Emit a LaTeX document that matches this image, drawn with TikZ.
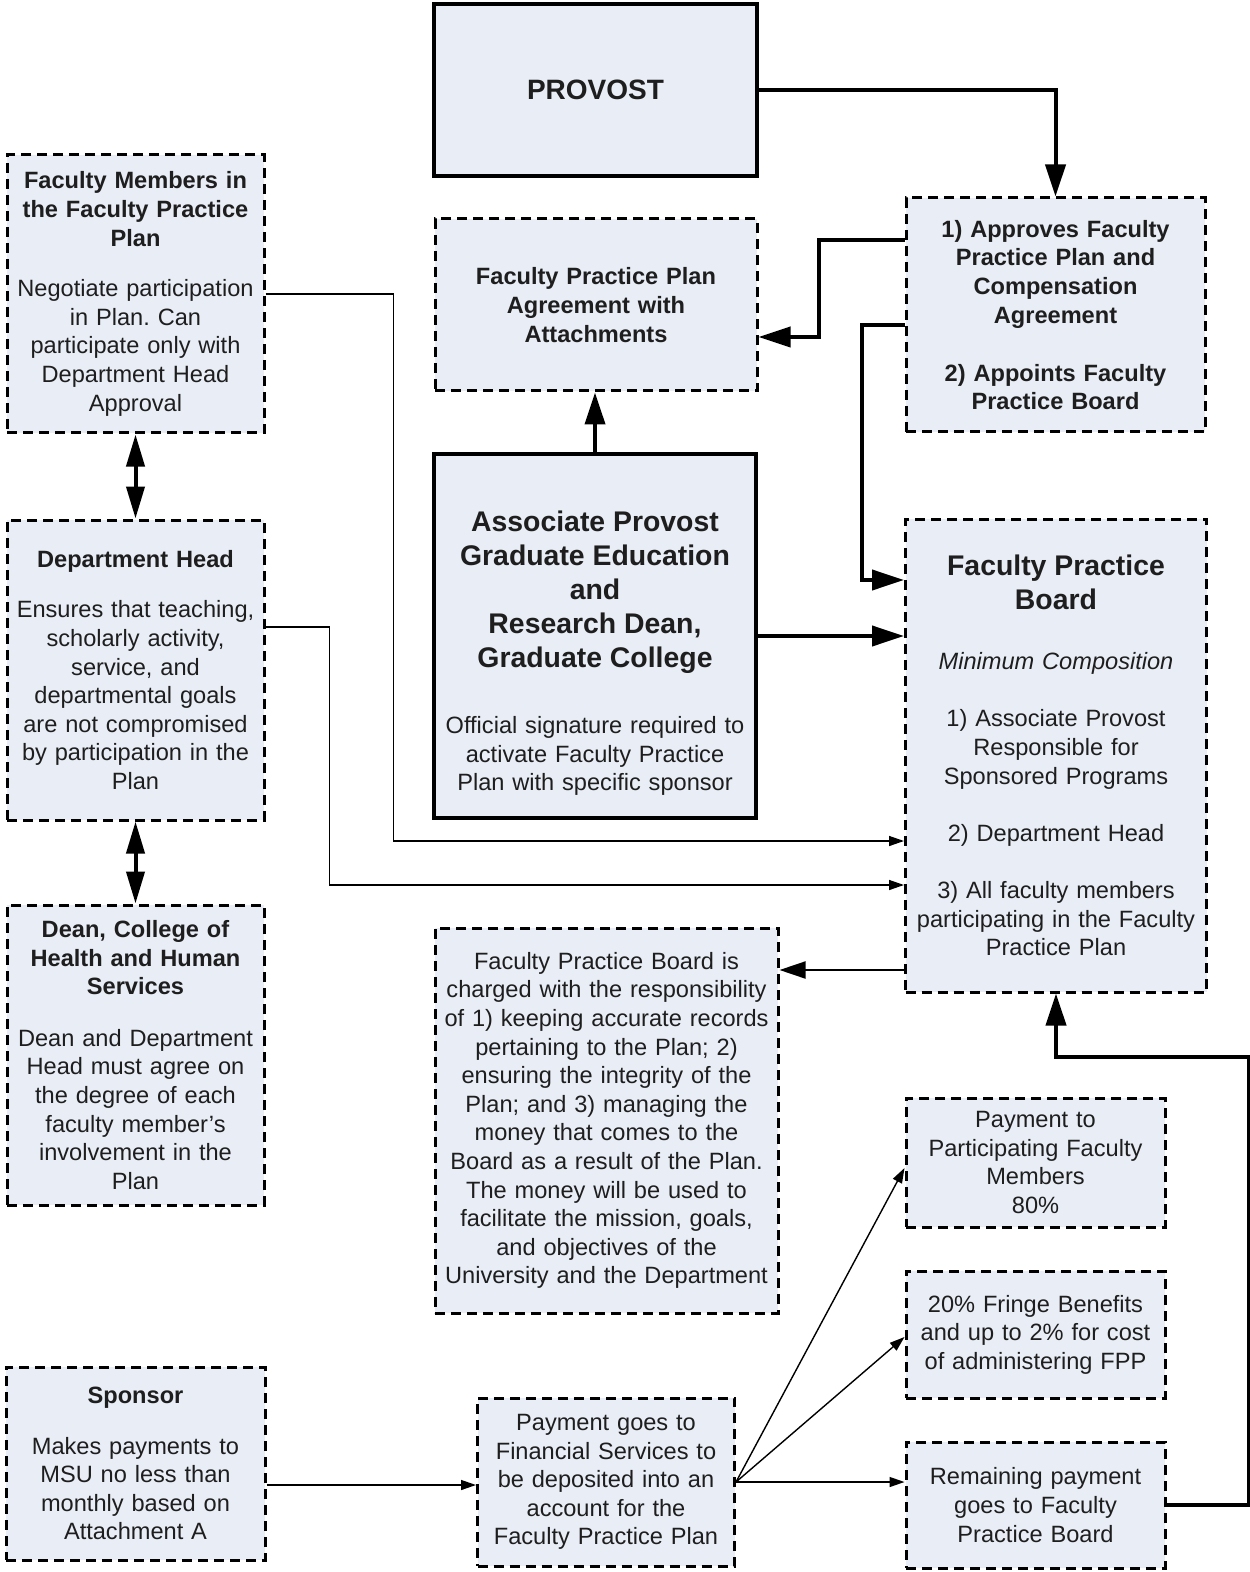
\documentclass[tikz,border=0pt]{standalone}
\usepackage{fontspec}
\setmainfont{Liberation Sans}
\usetikzlibrary{arrows.meta}
\definecolor{boxfill}{RGB}{232,237,246}
\definecolor{ink}{RGB}{30,30,30}
\begin{document}
\frenchspacing
\begin{tikzpicture}[x=0.5pt,y=-0.5pt,
  base/.style={rectangle, fill=boxfill, align=center, inner sep=0pt, text=ink,
    font=\fontsize{11.8}{14.3}\selectfont},
  dbox/.style={base, draw=black, line width=1.5pt, dash pattern=on 5pt off 3pt},
  sbox/.style={base, draw=black, line width=2pt},
  thk/.style={draw=black, line width=2pt, -{Triangle[length=16pt,width=10pt]}},
  dbl/.style={draw=black, line width=2pt, {Triangle[length=16pt,width=9pt]}-{Triangle[length=16pt,width=9pt]}},
  med/.style={draw=black, line width=1pt, -{Triangle[length=13pt,width=8.5pt]}},
  thn/.style={draw=black, line width=0.7pt, -{Triangle[length=7.5pt,width=5pt]}}]
\useasboundingbox (0,0) rectangle (1249,1572);

\node[sbox, minimum width=161.5pt, minimum height=86pt, text width=158pt] (prov) at (595.5,90)
  {\fontsize{14}{17}\selectfont\bfseries PROVOST};

\node[dbox, minimum width=149.5pt, minimum height=117pt, text width=146pt] (appr) at (1055.5,315)
  {\bfseries 1) Approves Faculty\\ Practice Plan and\\ Compensation\\ Agreement\\[14.7pt] 2) Appoints Faculty\\ Practice Board};

\node[dbox, minimum width=161pt, minimum height=86pt, text width=158pt] (agree) at (596,305)
  {\bfseries Faculty Practice Plan\\ Agreement with\\ Attachments};

\node[dbox, minimum width=128.5pt, minimum height=139pt, text width=126pt] (fm) at (135.5,294)
  {\bfseries Faculty Members in\\ the Faculty Practice\\ Plan\\[11pt]\mdseries Negotiate participation\\ in Plan. Can\\ participate only with\\ Department Head\\ Approval};

\node[dbox, minimum width=128.5pt, minimum height=150pt, text width=126pt] (dh) at (135.5,670)
  {\bfseries Department Head\\[11pt]\mdseries Ensures that teaching,\\ scholarly activity,\\ service, and\\ departmental goals\\ are not compromised\\ by participation in the\\ Plan};

\node[dbox, minimum width=128.5pt, minimum height=150pt, text width=126pt] (dean) at (135.5,1055)
  {\bfseries Dean, College of\\ Health and Human\\ Services\\[11.5pt]\mdseries Dean and Department\\ Head must agree on\\ the degree of each\\ faculty member's\\ involvement in the\\ Plan};

\node[sbox, minimum width=161pt, minimum height=182pt, text width=158pt] (ap) at (595,636)
  {{\fontsize{14.2}{17}\selectfont\bfseries\rule{0pt}{27.5pt}Associate Provost\\ Graduate Education\\ and\\ Research Dean,\\ Graduate College\par}\vskip 18.7pt
   Official signature required to\\ activate Faculty Practice\\ Plan with specific sponsor};

\node[dbox, minimum width=150.5pt, minimum height=236.5pt, text width=148pt] (fpb) at (1056,755.5)
  {{\fontsize{14.2}{17}\selectfont\bfseries Faculty Practice\\ Board\par}\vskip 15.7pt
   \itshape Minimum Composition\\[14.3pt]\upshape 1) Associate Provost\\ Responsible for\\ Sponsored Programs\\[14.3pt] 2) Department Head\\[14.3pt] 3) All faculty members\\ participating in the Faculty\\ Practice Plan};

\node[dbox, minimum width=171.5pt, minimum height=192.5pt, text width=169pt] (resp) at (606.5,1120.5)
  {Faculty Practice Board is\\ charged with the responsibility\\ of 1) keeping accurate records\\ pertaining to the Plan; 2)\\ ensuring the integrity of the\\ Plan; and 3) managing the\\ money that comes to the\\ Board as a result of the Plan.\\ The money will be used to\\ facilitate the mission, goals,\\ and objectives of the\\ University and the Department};

\node[dbox, minimum width=129.5pt, minimum height=64.5pt, text width=127pt] (pay) at (1035.5,1162.5)
  {Payment to\\ Participating Faculty\\ Members\\ 80\%};

\node[dbox, minimum width=129.5pt, minimum height=63.5pt, text width=127pt] (fringe) at (1035.5,1334.5)
  {20\% Fringe Benefits\\ and up to 2\% for cost\\ of administering FPP};

\node[dbox, minimum width=129.5pt, minimum height=63pt, text width=127pt] (rem) at (1035.5,1505)
  {Remaining payment\\ goes to Faculty\\ Practice Board};

\node[dbox, minimum width=128.5pt, minimum height=84pt, text width=126pt] (fin) at (606,1482)
  {Payment goes to\\ Financial Services to\\ be deposited into an\\ account for the\\ Faculty Practice Plan};

\node[dbox, minimum width=129.5pt, minimum height=96.5pt, text width=127pt] (sp) at (135.5,1463.5)
  {\bfseries Sponsor\\[11pt]\mdseries Makes payments to\\ MSU no less than\\ monthly based on\\ Attachment A};

% connectors
\draw[thk] (prov.east) -| (appr.north);
\draw[thk] ([yshift=37.5pt]appr.west) -- ++(-86,0) |- ([yshift=-16pt]agree.east);
\draw[thk] ([yshift=-5pt]appr.west) -- ++(-43,0) |- ([yshift=87.75pt]fpb.west);
\draw[thk] (ap.north) -- (ap.north |- agree.south);
\draw[thk] (ap.east) -- (ap.east -| fpb.west);
\draw[thn] (fm.east) -- ++(128,0) |- ([yshift=-42.75pt]fpb.west);
\draw[thn] ([yshift=21.5pt]dh.east) -- ++(64,0) |- ([yshift=-64.75pt]fpb.west);
\draw[dbl] (fm.south) -- (dh.north);
\draw[dbl] (dh.south) -- (dean.north);
\coordinate (fpbout) at ([yshift=-107.25pt]fpb.west);
\draw[med] (fpbout) -- (fpbout -| resp.east);
\coordinate (spout) at ([yshift=-10.75pt]sp.east);
\draw[thn] (spout) -- (spout -| fin.west);
\draw[thn] (fin.east) -- ([yshift=-2.75pt]pay.west);
\draw[thn] (fin.east) -- ([yshift=-1.25pt]fringe.west);
\draw[thn] (fin.east) -- (fin.east -| rem.west);
\draw[thk] (rem.east) -- ++(82,0) -- ++(0,-448) -| (fpb.south);
\end{tikzpicture}
\end{document}
